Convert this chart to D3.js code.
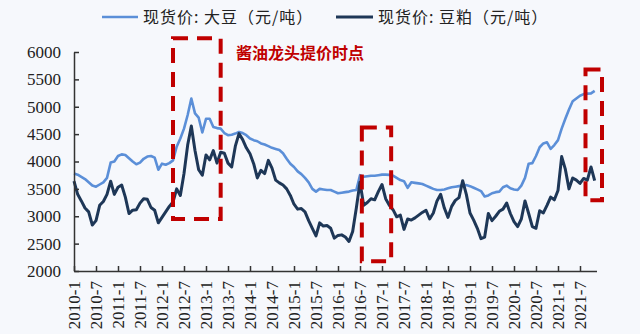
<!DOCTYPE html>
<html><head><meta charset="utf-8">
<script src="https://cdn.jsdelivr.net/npm/d3@7/dist/d3.min.js"></script>
<style>
html,body{margin:0;padding:0;background:#f6f8fc;}
svg{display:block;}
</style></head>
<body>
<svg id="c" width="640" height="334"></svg>
<script>
// Monthly values, 2010-01 .. 2021-11
const soybean = [3780,3760,3720,3680,3620,3560,3540,3580,3620,3700,3980,4000,
4100,4130,4120,4060,4000,3950,3980,4050,4090,4100,4070,3850,
3960,3940,3970,4020,4270,4420,4600,4850,5150,4880,4800,4530,
4780,4780,4630,4610,4600,4520,4480,4490,4510,4540,4520,4480,
4420,4390,4370,4330,4310,4280,4250,4230,4210,4150,4050,3960,
3900,3820,3770,3700,3620,3500,3450,3500,3490,3480,3480,3450,
3420,3430,3440,3450,3470,3480,3750,3720,3730,3740,3740,3750,
3760,3760,3755,3740,3700,3660,3640,3520,3620,3610,3600,3590,
3560,3530,3500,3480,3480,3490,3510,3530,3540,3550,3560,3570,
3550,3520,3490,3460,3360,3380,3420,3440,3450,3530,3560,3510,
3490,3480,3560,3700,3960,3970,4100,4260,4330,4350,4230,4300,
4390,4600,4780,4950,5100,5150,5200,5230,5240,5245,5290];
const soymeal = [3640,3400,3280,3150,3080,2840,2920,3200,3270,3400,3640,3400,
3530,3570,3350,3050,3110,3120,3240,3320,3310,3160,3110,2880,
2980,3080,3180,3260,3500,3380,3780,4300,4650,4200,3850,3750,
4120,4030,4200,3970,4170,4150,3970,3900,4280,4510,4400,4250,
4140,3960,3700,3840,3780,4020,3880,3660,3610,3570,3500,3380,
3220,3130,3140,3080,2920,2780,2640,2880,2820,2830,2780,2600,
2650,2660,2620,2540,2720,3150,3620,3200,3250,3320,3300,3450,
3580,3320,3200,3120,2990,3020,2760,2950,2930,2970,3020,3070,
3110,2950,3060,3280,3400,3150,2980,3180,3290,3340,3650,3400,
3060,2930,2780,2590,2620,3050,2920,3000,3090,3130,3240,3050,
2900,2810,2950,3280,3050,2810,2780,3100,3060,3200,3350,3300,
3470,4090,3860,3500,3700,3660,3600,3690,3660,3900,3650];
const xTickLabels = ["2010-1","2010-7","2011-1","2011-7","2012-1","2012-7","2013-1","2013-7",
"2014-1","2014-7","2015-1","2015-7","2016-1","2016-7","2017-1","2017-7","2018-1","2018-7",
"2019-1","2019-7","2020-1","2020-7","2021-1","2021-7"];
const yTicks = [2000,2500,3000,3500,4000,4500,5000,5500,6000];
const seriesNames = ["现货价: 大豆（元/吨）","现货价: 豆粕（元/吨）"];
const annotation = "酱油龙头提价时点";
// highlight windows: [startMonth, endMonth, lowValue, highValue]
const windows = [[27,40,2950,6250],[78.5,86.5,2180,4620],[139.5,144,3290,5680]];

const svg = d3.select("#c");
const x = d3.scaleLinear().domain([0,142.5]).range([74, 74+142.5*506/138]);
const y = d3.scaleLinear().domain([2000,6000]).range([271,52]);

const serif = "'Liberation Serif','Times New Roman',serif";
const cjk = "'Noto Sans CJK SC','Noto Sans',sans-serif";

// lines
const line = d3.line().x((d,i)=>x(i)).y(d=>y(d)).curve(d3.curveLinear);
svg.append("path").datum(soybean).attr("d",line)
  .attr("fill","none").attr("stroke","#5b8fd8").attr("stroke-width",2.6).attr("stroke-linejoin","round");
svg.append("path").datum(soymeal).attr("d",line)
  .attr("fill","none").attr("stroke","#1e3757").attr("stroke-width",3).attr("stroke-linejoin","round");

// axes
const yAxis = d3.axisLeft(y).tickValues(yTicks).tickSizeInner(-5).tickSizeOuter(0).tickPadding(13).tickFormat(d3.format("d"));
const gy = svg.append("g").attr("transform","translate(74,0)").call(yAxis);
gy.selectAll("text").attr("font-family",serif).attr("font-size",17).attr("fill","#222");

const xAxis = d3.axisBottom(x).tickValues(xTickLabels.map((d,i)=>i*6)).tickSizeInner(-5).tickSizeOuter(0)
  .tickFormat((d,i)=>xTickLabels[i]);
const gx = svg.append("g").attr("transform","translate(0,271)").call(xAxis);
gx.selectAll("text").attr("font-family",serif).attr("font-size",17).attr("fill","#222")
  .attr("transform","rotate(-90)").attr("text-anchor","end").attr("x",-10).attr("y",0).attr("dy","0.35em");
[gx,gy].forEach(g=>{g.selectAll("path,line").attr("stroke","#333").attr("stroke-width",1.5);});

// highlight rectangles
windows.forEach(w=>{
  svg.append("rect").attr("x",x(w[0])).attr("y",y(w[3]))
    .attr("width",x(w[1])-x(w[0])).attr("height",y(w[2])-y(w[3]))
    .attr("fill","none").attr("stroke","#c00000").attr("stroke-width",4).attr("stroke-dasharray","15,9");
});
svg.append("text").attr("x",236).attr("y",59).text(annotation)
  .attr("font-family",cjk).attr("font-weight","bold").attr("font-size",16).attr("fill","#c00000");

// legend
const lg = [[102,138,143,"#5b8fd8",2.6],[336,373,378,"#1e3757",3]];
lg.forEach((l,i)=>{
  svg.append("line").attr("x1",l[0]).attr("x2",l[1]).attr("y1",17).attr("y2",17).attr("stroke",l[3]).attr("stroke-width",l[4]);
  svg.append("text").attr("x",l[2]).attr("y",23).text(seriesNames[i])
    .attr("font-family",cjk).attr("font-size",16).attr("fill","#222").attr("letter-spacing",1);
});
</script>
</body></html>
